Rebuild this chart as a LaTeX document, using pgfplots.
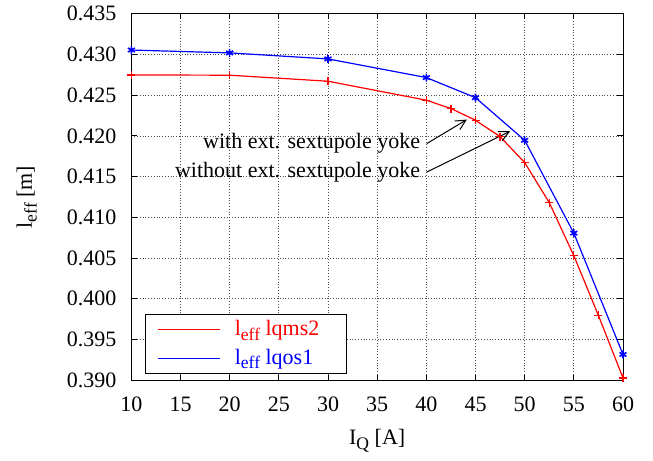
\documentclass[border=0pt]{standalone}
\usepackage{fontspec}
\setmainfont{Liberation Serif}
\usepackage{pgfplots}
\pgfplotsset{compat=1.18}
\usetikzlibrary{arrows.meta}
\newcommand\sub[1]{\raisebox{-0.45ex}{\fontsize{8.8}{10}\selectfont #1}}
\begin{document}
\fontsize{11}{13}\selectfont
\begin{tikzpicture}
\path[use as bounding box] (-65.7pt,-39.9pt) rectangle (260.9pt,190.2pt);
\begin{axis}[
  at={(0pt,0pt)}, anchor=south west,
  scale only axis, width=245.9pt, height=183.3pt,
  xmin=10, xmax=60, ymin=0.390, ymax=0.435,
  xtick={10,15,20,25,30,35,40,45,50,55,60},
  ytick={0.390,0.395,0.400,0.405,0.410,0.415,0.420,0.425,0.430,0.435},
  scaled y ticks=false,
  /pgf/number format/assume math mode=true,
  yticklabel style={/pgf/number format/fixed, /pgf/number format/fixed zerofill, /pgf/number format/precision=3, xshift=-3.6pt},
  xticklabel style={yshift=-4.3pt},
  tick align=inside,
  major tick length=2.8pt,
  every tick/.style={black, line width=0.5pt},
  axis line style={line width=0.5pt},
  grid=major,
  major grid style={densely dotted, black!70, line width=0.4pt},
  xlabel={I\sub{Q} [A]},
  ylabel={l\sub{eff} [m]},
  xlabel style={at={(axis description cs:0.5,0)}, anchor=base, yshift=-32.3pt},
  ylabel style={at={(axis description cs:0,0.5)}, anchor=base, rotate=0, yshift=49.7pt},
  clip=false,
  legend style={at={(0.028,0.017)}, anchor=south west, draw=black, line width=0.5pt,
    fill=white, inner xsep=6pt, inner ysep=1pt, row sep=1pt,
    cells={anchor=west}},
  legend image code/.code={\draw[#1,line width=0.6pt] (0pt,0pt) -- (31pt,0pt);},
]
\addplot[red, line width=0.6pt, mark=+, mark size=2pt, forget plot] coordinates {
(10,0.42749) (20,0.42746) (30,0.42672) (40,0.42439) (42.5,0.42337) (45,0.42193)
(47.5,0.41992) (50,0.41673) (52.5,0.41182) (55,0.40530) (57.5,0.39796) (60,0.39028)};
\addplot[blue, line width=0.6pt, mark=asterisk, mark size=2pt, mark options={line width=0.8pt}, forget plot] coordinates {
(10,0.43055) (20,0.43020) (30,0.42946) (40,0.42717) (45,0.42470) (50,0.41947)
(55,0.40807) (60,0.39317)};
\addlegendimage{red}
\addlegendentry{\hspace*{5pt}\makebox[48pt][l]{\textcolor{red}{l\sub{eff} lqms2}}}
\addlegendimage{blue}
\addlegendentry{\hspace*{5pt}\makebox[48pt][l]{\textcolor{blue}{l\sub{eff} lqos1}}}
\node[anchor=east, inner sep=0pt] at (axis cs:39.4,0.41907) {with ext. sextupole yoke};
\draw[line width=0.5pt, -{Straight Barb[length=5pt,width=5pt]}] (axis cs:40.05,0.41907) -- (axis cs:44.12,0.42201);
\node[anchor=east, inner sep=0pt] at (axis cs:39.4,0.41557) {without ext. sextupole yoke};
\draw[line width=0.5pt, -{Straight Barb[length=5pt,width=5pt]}] (axis cs:40.05,0.41557) -- (axis cs:48.52,0.42058);
\end{axis}
\end{tikzpicture}
\end{document}
